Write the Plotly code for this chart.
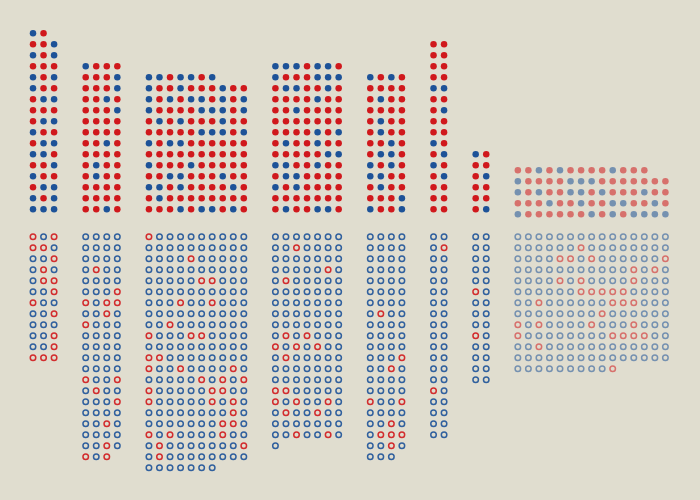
import plotly.graph_objects as go

# ---- data: each string is one row of dots, top to bottom; R = red, B = blue ----
g1_filled = ["BR", "RRB", "BRB", "RRR", "BRB", "BRR", "RBB", "RRR", "RBB", "BRR",
             "RBB", "BBR", "RRB", "BRR", "RBB", "BRB", "BBB"]
g1_open = ["RBR", "RRB", "BBR", "BRB", "BRR", "BBR", "RBB", "BBR", "BBB", "BBR",
           "BBR", "RRR"]

g2_filled = ["BRRR", "RRRB", "RRRB", "RRBR", "RRRB", "RRRR", "RRRR", "RRBR",
             "RRRR", "RBRR", "RBRR", "RRRR", "RRRR", "RRBR"]
g2_open = ["BBBB", "BBBB", "BBBB", "BRBB", "BBBB", "BBBR", "RBRR", "BBRB", "RBBB",
           "BBBB", "BBBB", "BBBB", "BBBB", "RBBR", "BRBB", "BBBR", "BBBB", "BBRB",
           "BBBB", "BBRB", "RBR"]

g3_filled = ["BBRBBRB", "BRRBRRRBRR", "BRBRBBRBRB", "BRRRRBBBRB", "RBRBRRRBRR",
             "RRRRRBBBRB", "BRBBRRRRRR", "RRRRRRRRRR", "BRRRBRRRRR", "RRBBRRRBRR",
             "BBRBRRRRBR", "RBRRRRRRRR", "RRRBRBBRBR"]
g3_open = ["RBBBBBBBBB", "BBBBBBBBBB", "BBBBRBBBBB", "BBBBBBBBBB", "BBBBBRRBBB",
           "BBBBBBBBBB", "BBBRBBRBBB", "BBBBBBBBBB", "BBRBBBBBBB", "RBBBRRBBBB",
           "BBBBBBBBBB", "RRBBBBBBBB", "RBBRBBBBRB", "BBBBBRBRBR", "RBBBBBRRBB",
           "RBBBBBRBRB", "BBBBBBBBRB", "BBBBBBBRRB", "RBRBBBBRBB", "BRBBBBBBBR",
           "BRBBBBBBBB", "BBBBBBB"]

g4_filled = ["BBBRBBR", "BRRRBBB", "RBBRRBR", "RRRRBRR", "RRBRRRR", "RRRRRRR",
             "RRRRBRB", "RBRRBRR", "RRRRRBB", "BBRRBRR", "RBBRRRR", "BRBRRRR",
             "RRRRRRR", "RBRRBBR"]
g4_open = ["BBBBBBB", "BBRBBBB", "BBBBBBB", "BBBBBRB", "BRBBBBB", "BBBBBBB",
           "BBBBBBB", "BBBBBBB", "BBBBBBB", "BRBRBBB", "RBRBRBB", "BRBBBBB",
           "BBBBBBB", "BBBBBBB", "RRBBBBB", "RBRBBRB", "BRBBRBB", "BBBBBBB",
           "BBRBBRB", "B"]

g5_filled = ["BRBR", "RRRR", "RBRR", "RRRR", "RBRR", "RBRR", "RRBR", "RBBR",
             "BRBR", "BBRR", "RBRR", "RRRB", "BRRB"]
g5_open = ["BBBB", "BBBB", "BBBB", "BBBB", "BBBB", "BBBB", "BBBB", "BRBB", "BBBB",
           "BBBB", "BBBB", "BBBR", "BBRB", "BBBB", "BBBB", "RBBR", "BBBB", "BBRB",
           "BRRR", "BBRB", "BBB"]

g6_filled = ["RR", "RR", "RR", "RR", "BB", "RR", "RB", "RR", "RR", "BR", "RB",
             "BR", "RB", "RR", "RR", "RR"]
g6_open = ["BB", "BR", "BB", "BB", "BB", "BB", "BB", "BB", "BB", "BB", "BB",
           "BB", "BB", "BB", "RB", "BB", "BB", "BB", "BB"]

g7_filled = ["BR", "RR", "RB", "RR", "RR", "RB"]
g7_open = ["BB", "BB", "BB", "BB", "BB", "RB", "BB", "BB", "BB", "RB", "BB",
           "BB", "BB", "BB"]

g8_filled = ["RRBRBRRRRBRRR", "BRRRRBBBRRRRRRR", "BRBRRBBRBRRRBRR",
             "RRRBRRBRRBBRRBR", "BRRRRRRBRBRBBBB"]
g8_open = ["BBBBBBBBBBBBBBB", "BBBBBBRBBBBBBBB", "BBBBRRBRBBBBBBR",
           "BBBBBBBBBBBRBRB", "BBBBRBRBBBBRBBB", "BBBBBBRRRRRBBBB",
           "BBRBBBBBBRRRBBB", "BBBBBBBBRBBBBBB", "RBRBBBBRBBBRBBB",
           "RBBBBBBBBRRRRBB", "BBRBBBBBBBBBBBB", "BBBBBBBBBBBBBBB",
           "BBBBBBBBBR"]

group_cols = [3, 4, 10, 7, 4, 2, 2, 15]
group_filled = [g1_filled, g2_filled, g3_filled, g4_filled, g5_filled, g6_filled, g7_filled, g8_filled]
group_open = [g1_open, g2_open, g3_open, g4_open, g5_open, g6_open, g7_open, g8_open]
group_muted = [False, False, False, False, False, False, False, True]

# ---- layout / style ----
BG = "#e0ddcf"
RED = "#d0181c"
BLUE = "#1d5298"
X0, DX, GAP = 33.0, 10.54, 2
FILL_BASE, OPEN_TOP, DY = 209.3, 236.7, 11.0
MUTED_SHIFT = 5.0

traces = {}
def add(key, x, y, c):
    t = traces.setdefault(key, ([], [], []))
    t[0].append(x); t[1].append(y); t[2].append(c)

col = 0
for ncols, frows, orows, muted in zip(group_cols, group_filled, group_open, group_muted):
    xs = [X0 + DX * (col + i) for i in range(ncols)]
    shift = MUTED_SHIFT if muted else 0.0
    n = len(frows)
    for r, row in enumerate(frows):
        y = FILL_BASE + shift - DY * (n - 1 - r)
        for c, ch in enumerate(row):
            add(("filled", muted), xs[c], y, RED if ch == "R" else BLUE)
    for r, row in enumerate(orows):
        y = OPEN_TOP + DY * r
        for c, ch in enumerate(row):
            add(("open", muted), xs[c], y, RED if ch == "R" else BLUE)
    col += ncols + GAP

fig = go.Figure()
for (kind, muted), (x, y, c) in traces.items():
    if kind == "filled":
        marker = dict(symbol="circle", size=6.5, color=c, line=dict(width=0),
                      opacity=0.55 if muted else 1.0)
    else:
        marker = dict(symbol="circle-open", size=5.5, color=c, line=dict(width=1.5),
                      opacity=0.55 if muted else 0.9)
    fig.add_trace(go.Scatter(x=x, y=y, mode="markers", marker=marker,
                             hoverinfo="skip", showlegend=False))

fig.update_layout(
    width=700, height=500,
    margin=dict(l=0, r=0, t=0, b=0),
    paper_bgcolor=BG, plot_bgcolor=BG,
    xaxis=dict(range=[0, 700], visible=False, fixedrange=True),
    yaxis=dict(range=[500, 0], visible=False, fixedrange=True),
)
fig.write_html("out.html")
